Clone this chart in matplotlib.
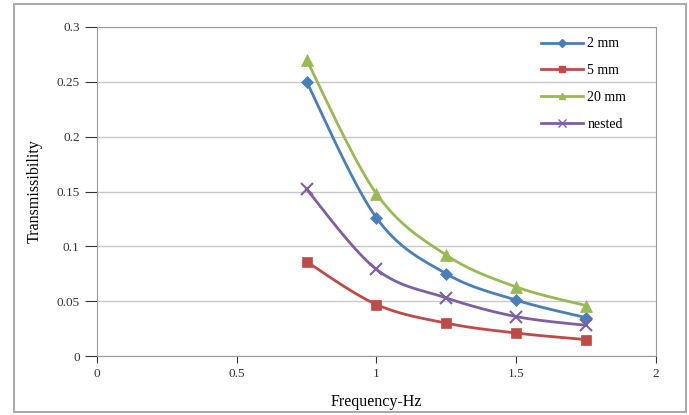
import matplotlib
matplotlib.use("Agg")
import matplotlib.pyplot as plt
import numpy as np
from matplotlib.patches import Rectangle

freq = [0.75, 1.0, 1.25, 1.5, 1.75]
t_2mm = [0.250, 0.126, 0.075, 0.051, 0.035]
t_5mm = [0.086, 0.047, 0.030, 0.021, 0.015]
t_20mm = [0.270, 0.148, 0.092, 0.063, 0.046]
t_nested = [0.152, 0.079, 0.053, 0.036, 0.028]
labels = ["2 mm", "5 mm", "20 mm", "nested"]


def smooth(x, y, n=30):
    # Catmull-Rom style smoothing, like Excel's "smoothed line"
    x = np.asarray(x, float)
    y = np.asarray(y, float)
    px = np.concatenate([[x[0]], x, [x[-1]]])
    py = np.concatenate([[y[0]], y, [y[-1]]])
    xs, ys = [], []
    t = np.linspace(0, 1, n)
    for i in range(1, len(px) - 2):
        for p, out in ((px, xs), (py, ys)):
            p0, p1, p2, p3 = p[i - 1], p[i], p[i + 1], p[i + 2]
            out.extend(0.5 * (2 * p1 + (-p0 + p2) * t
                              + (2 * p0 - 5 * p1 + 4 * p2 - p3) * t ** 2
                              + (-p0 + 3 * p1 - 3 * p2 + p3) * t ** 3))
    return xs, ys


plt.rcParams["font.family"] = "Liberation Serif"
fig = plt.figure(figsize=(6.89, 4.15), dpi=100)
ax = fig.add_axes([0.1408, 0.142, 0.952 - 0.1408, 0.935 - 0.142])

series = [
    (t_2mm, "#4A7EBB", "D", 6.5),
    (t_5mm, "#BE4B48", "s", 7.5),
    (t_20mm, "#98B954", "^", 8),
    (t_nested, "#7D60A0", "x", 8.5),
]
for (vals, col, mk, ms), lab in zip(series, labels):
    sx, sy = smooth(freq, vals)
    ax.plot(sx, sy, color=col, linewidth=2, zorder=3)
    ax.plot(freq, vals, linestyle="none", marker=mk, color=col, markersize=ms,
            markeredgewidth=1.5 if mk == "x" else 0.5, zorder=4)
    ax.plot([], [], color=col, linewidth=2, marker=mk, markersize=ms * 0.6, label=lab)

ax.set_xlim(0, 2)
ax.set_ylim(0, 0.3)
ax.set_xticks([0, 0.5, 1, 1.5, 2])
ax.set_xticklabels(["0", "0.5", "1", "1.5", "2"])
ax.set_yticks([0, 0.05, 0.1, 0.15, 0.2, 0.25, 0.3])
ax.set_yticklabels(["0", "0.05", "0.1", "0.15", "0.2", "0.25", "0.3"])
ax.tick_params(labelsize=9.5, colors="#333333", length=5, width=0.8)
ax.tick_params(axis="y", length=9)
ax.yaxis.grid(True, color="#c8c8c8", linewidth=1)
ax.set_axisbelow(True)
for s in ax.spines.values():
    s.set_color("#999999")
ax.set_xlabel("Frequency-Hz", fontsize=11.5, labelpad=10)
ax.set_ylabel("Transmissibility", fontsize=11.5, labelpad=10)

ax.legend(loc="upper left", bbox_to_anchor=(0.785, 0.985), frameon=False,
          fontsize=10, handlelength=3, handletextpad=0.3, labelspacing=1.0,
          borderaxespad=0)

fig.patches.append(Rectangle((0.02, 0.008), 0.975, 0.982, transform=fig.transFigure,
                             fill=False, edgecolor="#aaaaaa", linewidth=1.5))

fig.savefig("out.png", dpi=100)
